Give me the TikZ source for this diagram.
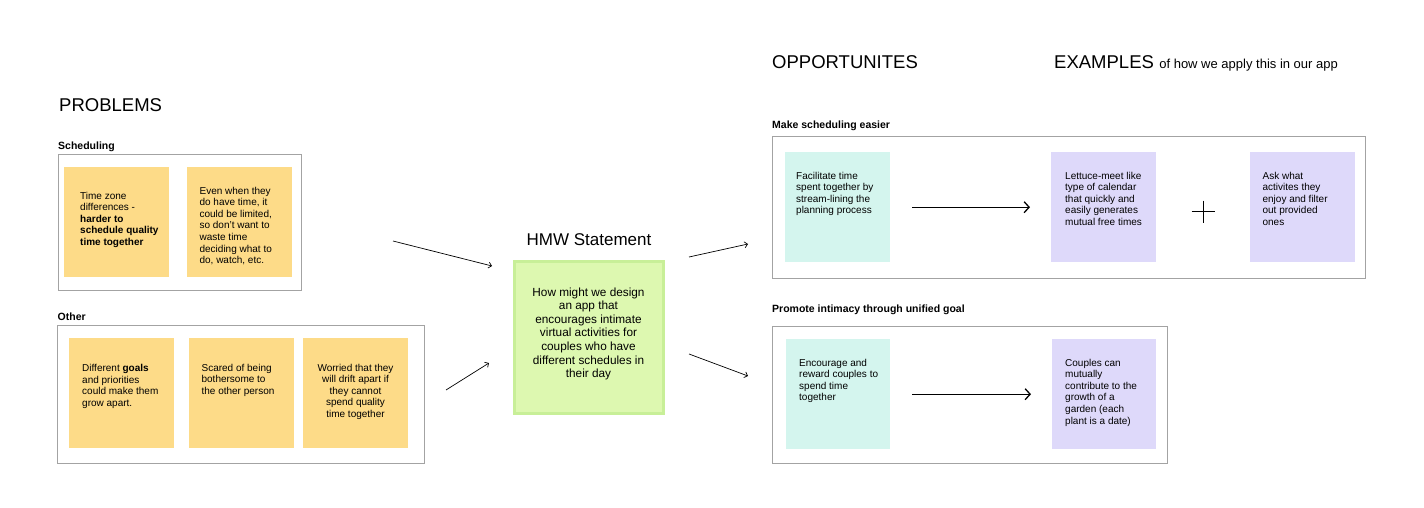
\documentclass[tikz,border=0pt]{standalone}
\usepackage{fontspec}
\setmainfont{Liberation Sans}
\usepackage{xcolor}
\usetikzlibrary{arrows.meta,positioning}
\definecolor{noteyellow}{HTML}{FDDB88}
\definecolor{noteteal}{HTML}{D4F5EE}
\definecolor{notepurple}{HTML}{DED9FA}
\definecolor{hmwfill}{HTML}{DDF8B0}
\definecolor{hmwline}{HTML}{C8EF98}
\definecolor{framegray}{HTML}{A3A3A3}
\tikzset{%
	note/.style      = {rectangle, anchor=north west, inner sep=0pt, minimum width=105pt, minimum height=110pt},
	yellownote/.style= {note, fill=noteyellow},
	tealnote/.style  = {note, fill=noteteal},
	purplenote/.style= {note, fill=notepurple},
	notetext/.style  = {inner sep=0pt, align=left, anchor=north west, font=\fontsize{10}{11.6}\selectfont},
	frame/.style     = {draw=framegray, rectangle, anchor=north west, inner sep=0pt, line width=0.9pt},
	heading/.style   = {inner sep=0pt, anchor=base west, font=\fontsize{18.5}{20}\selectfont},
	grouptitle/.style= {inner sep=0pt, anchor=base west, font=\fontsize{10.5}{12}\selectfont\bfseries},
	thinarrow/.style = {line width=0.7pt, -{Straight Barb[length=3pt,width=6pt]}},
	bigarrow/.style  = {line width=1.3pt, -{Straight Barb[length=5pt,width=11pt]}},
}
\begin{document}
\begin{tikzpicture}[x=1pt,y=-1pt]
		\useasboundingbox[fill=white] (0,0) rectangle (1424,508);
		
		% problems
		\node[heading] (problems) at (59,111.5) {PROBLEMS};
		\node[grouptitle] (schedtitle) at (58,149.5) {Scheduling};
		\node[frame, minimum width=243pt, minimum height=136pt] (schedframe) at (58,154) {};
		\node[yellownote] (zone) at (64,167) {};
		\node[yellownote, right=17pt of zone] (limited) {};
		\node[notetext] at ([shift={(16,24.7)}]zone.north west) {Time zone\\differences -\\\textbf{harder to}\\\textbf{schedule quality}\\\textbf{time together}};
		\node[notetext] at ([shift={(13,19.7)}]limited.north west) {Even when they\\do have time, it\\could be limited,\\so don't want to\\waste time\\deciding what to\\do, watch, etc.};
		
		\node[grouptitle] (othertitle) at (57.5,320) {Other};
		\node[frame, minimum width=367pt, minimum height=138pt] (otherframe) at (57,325) {};
		\node[yellownote] (goals) at (69,338) {};
		\node[yellownote, right=14pt of goals] (bother) {};
		\node[yellownote, right=9pt of bother] (drift) {};
		\node[notetext] at ([shift={(13,26.2)}]goals.north west) {Different \textbf{goals}\\and priorities\\could make them\\grow apart.};
		\node[notetext] at ([shift={(13,25.7)}]bother.north west) {Scared of being\\bothersome to\\the other person};
		\node[notetext, align=center, anchor=north] at ([shift={(0,25.7)}]drift.north) {Worried that they\\will drift apart if\\they cannot\\spend quality\\time together};
		
		% hmw
		\node[inner sep=0pt, anchor=base, font=\fontsize{17}{19}\selectfont] (hmwtitle) at (589,245) {HMW Statement};
		\node[rectangle, anchor=north west, fill=hmwfill, draw=hmwline, line width=3pt, minimum width=149pt, minimum height=152pt] (hmw) at (512.5,259.5) {};
		\node[inner sep=0pt, align=center, anchor=north, font=\fontsize{11.8}{13.6}\selectfont] at ([shift={(0,27.9)}]hmw.north) {How might we design\\an app that\\encourages intimate\\virtual activities for\\couples who have\\different schedules in\\their day};
		
		\coordinate (in1s) at (393,241);
		\coordinate (in1e) at (492,266);
		\coordinate (in2s) at (446,390);
		\coordinate (in2e) at (489,363);
		\coordinate (out1s) at (689,257);
		\coordinate (out1e) at (748,244);
		\coordinate (out2s) at (689,354);
		\coordinate (out2e) at (748,376);
		\draw[thinarrow] (in1s) -- (in1e);
		\draw[thinarrow] (in2s) -- (in2e);
		\draw[thinarrow] (out1s) -- (out1e);
		\draw[thinarrow] (out2s) -- (out2e);
		
		% opportunities and examples
		\node[heading] (opps) at (772,69) {OPPORTUNITES};
		\node[heading] (examples) at (1054,69) {EXAMPLES};
		\node[inner sep=0pt, anchor=base west, font=\fontsize{13}{15}\selectfont] at ([xshift=5pt]examples.base east) {of how we apply this in our app};
		
		\node[grouptitle] (easiertitle) at (772,129) {Make scheduling easier};
		\node[frame, minimum width=593pt, minimum height=142pt] (easierframe) at (772,136) {};
		\node[tealnote] (stream) at (785,152) {};
		\node[purplenote] (lettuce) at (1051,152) {};
		\node[purplenote, right=93pt of lettuce] (filter) {};
		\node[notetext] at ([shift={(11,19.7)}]stream.north west) {Facilitate time\\spent together by\\stream-lining the\\planning process};
		\node[notetext] at ([shift={(14,19.7)}]lettuce.north west) {Lettuce-meet like\\type of calendar\\that quickly and\\easily generates\\mutual free times};
		\node[notetext] at ([shift={(13,19.7)}]filter.north west) {Ask what\\activites they\\enjoy and filter\\out provided\\ones};
		\draw[bigarrow, shorten <=22pt, shorten >=21pt] (stream.east) -- (lettuce.west);
		\coordinate (plus) at (1203,211.5);
		\draw[line width=1pt] (plus) ++(-11.5,0) -- ++(23,0);
		\draw[line width=1pt] (plus) ++(0,-11) -- ++(0,22);
		
		\node[grouptitle] (goaltitle) at (772,312.5) {Promote intimacy through unified goal};
		\node[frame, minimum width=395pt, minimum height=137pt] (goalframe) at (772,326) {};
		\node[tealnote, minimum width=104pt] (reward) at (786,339) {};
		\node[purplenote, minimum width=104pt] (garden) at (1052,339) {};
		\node[notetext] at ([shift={(13,19.7)}]reward.north west) {Encourage and\\reward couples to\\spend time\\together};
		\node[notetext] at ([shift={(13,19.7)}]garden.north west) {Couples can\\mutually\\contribute to the\\growth of a\\garden (each\\plant is a date)};
		\draw[bigarrow, shorten <=22pt, shorten >=21pt] (reward.east) -- (garden.west);
\end{tikzpicture}
\end{document}
